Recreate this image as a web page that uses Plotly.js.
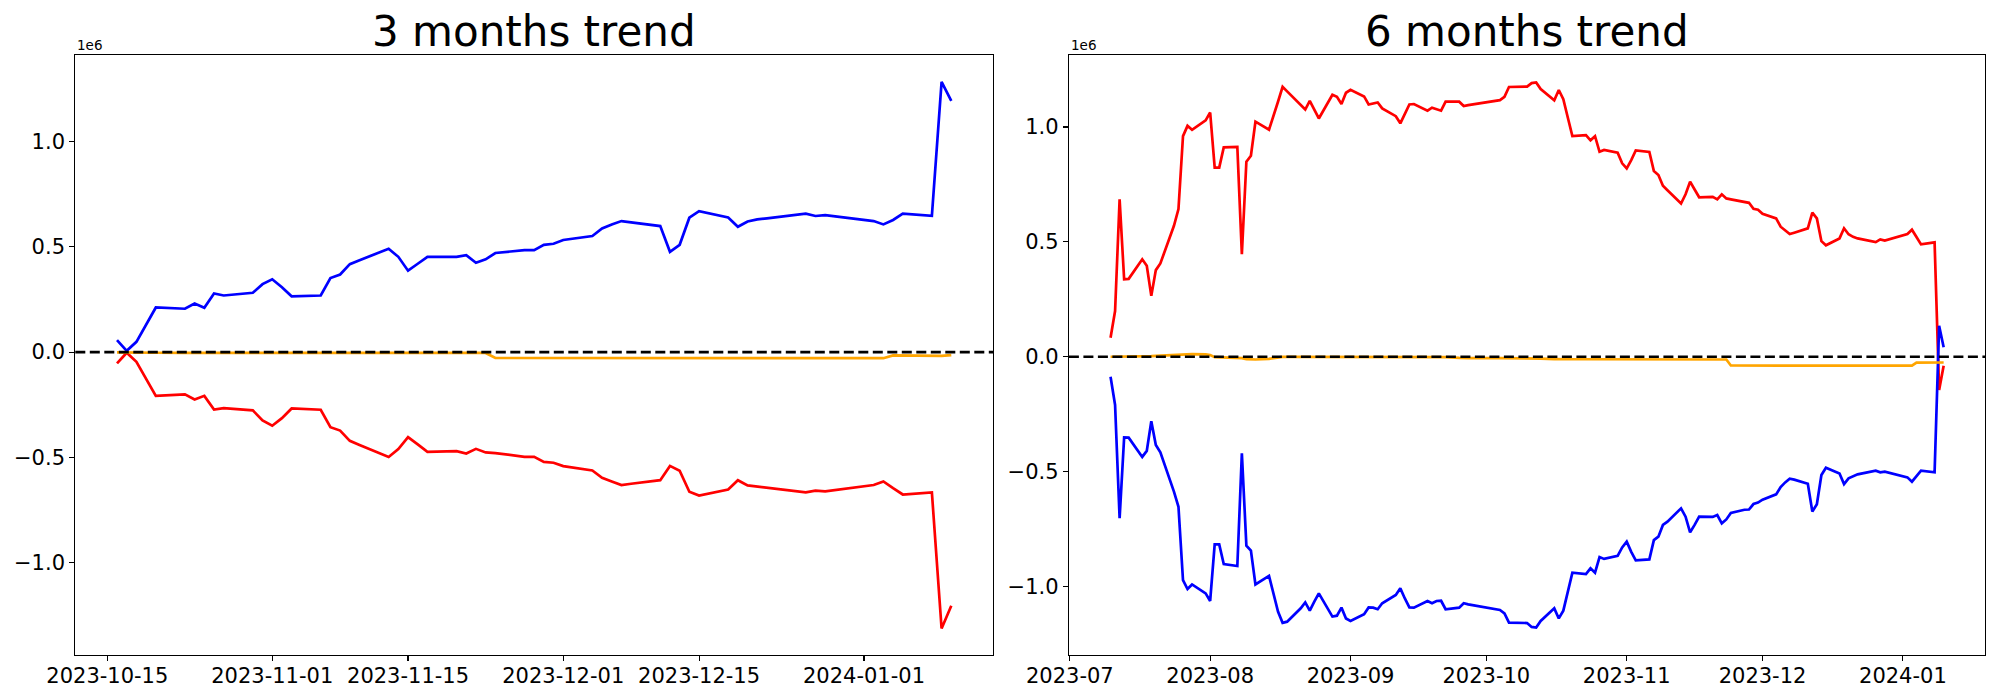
<!DOCTYPE html>
<html>
<head>
<meta charset="utf-8">
<script src="https://cdn.plot.ly/plotly-3.0.1.min.js"></script>
<style>html,body{margin:0;padding:0;background:#fff;}#chart{width:2000px;height:700px;}</style>
</head>
<body>
<div id="chart"></div>
<script>
// ---- 3 months (left) ----
const dates3m = [
"2023-10-16","2023-10-17","2023-10-18","2023-10-19","2023-10-20","2023-10-23","2023-10-24","2023-10-25","2023-10-26","2023-10-27","2023-10-30","2023-10-31",
"2023-11-01","2023-11-02","2023-11-03","2023-11-06","2023-11-07","2023-11-08","2023-11-09","2023-11-10","2023-11-13","2023-11-14","2023-11-15","2023-11-16","2023-11-17","2023-11-20","2023-11-21","2023-11-22","2023-11-23","2023-11-24","2023-11-27","2023-11-28","2023-11-29","2023-11-30",
"2023-12-01","2023-12-04","2023-12-05","2023-12-06","2023-12-07","2023-12-08","2023-12-11","2023-12-12","2023-12-13","2023-12-14","2023-12-15","2023-12-18","2023-12-19","2023-12-20","2023-12-21","2023-12-22","2023-12-26","2023-12-27","2023-12-28",
"2024-01-02","2024-01-03","2024-01-04","2024-01-05","2024-01-08","2024-01-09","2024-01-10"];
// values in units of 1e6
const blue3m = [0.057,0.006,0.049,0.133,0.212,0.206,0.231,0.211,0.279,0.269,0.282,0.323,
0.346,0.308,0.265,0.269,0.352,0.369,0.418,0.437,0.491,0.453,0.387,0.420,0.453,0.453,0.461,0.425,0.441,0.471,0.485,0.485,0.510,0.515,
0.533,0.552,0.588,0.607,0.623,0.617,0.599,0.477,0.510,0.639,0.670,0.640,0.596,0.621,0.631,0.636,0.658,0.647,0.651,
0.623,0.607,0.628,0.658,0.648,1.285,1.194];
const red3m = [-0.054,-0.003,-0.046,-0.130,-0.208,-0.201,-0.225,-0.208,-0.273,-0.266,-0.277,-0.325,
-0.350,-0.314,-0.268,-0.274,-0.357,-0.373,-0.422,-0.442,-0.499,-0.461,-0.404,-0.439,-0.474,-0.471,-0.482,-0.460,-0.477,-0.480,-0.498,-0.498,-0.522,-0.526,
-0.542,-0.563,-0.598,-0.615,-0.632,-0.626,-0.609,-0.541,-0.564,-0.664,-0.682,-0.653,-0.609,-0.634,-0.640,-0.645,-0.667,-0.659,-0.662,
-0.632,-0.615,-0.647,-0.677,-0.667,-1.314,-1.206];
const orange3m = [-0.001,-0.002,-0.003,-0.003,-0.003,-0.004,-0.004,-0.004,-0.004,-0.004,-0.004,-0.004,
-0.004,-0.004,-0.004,-0.004,-0.004,-0.004,-0.004,-0.004,-0.004,-0.004,-0.004,-0.004,-0.004,-0.004,-0.004,-0.004,-0.004,-0.028,-0.028,-0.028,-0.028,-0.028,
-0.028,-0.028,-0.028,-0.028,-0.028,-0.028,-0.028,-0.026,-0.029,-0.029,-0.029,-0.029,-0.029,-0.029,-0.029,-0.029,-0.029,-0.029,-0.029,
-0.029,-0.029,-0.016,-0.016,-0.016,-0.018,-0.014];
const ticks3m = ["2023-10-15","2023-11-01","2023-11-15","2023-12-01","2023-12-15","2024-01-01"];

// ---- 6 months (right) ----
const datesPre = [
"2023-07-10","2023-07-11","2023-07-12","2023-07-13","2023-07-14","2023-07-17","2023-07-18","2023-07-19","2023-07-20","2023-07-21","2023-07-24","2023-07-25","2023-07-26","2023-07-27","2023-07-28","2023-07-31",
"2023-08-01","2023-08-02","2023-08-03","2023-08-04","2023-08-07","2023-08-08","2023-08-09","2023-08-10","2023-08-11","2023-08-14","2023-08-16","2023-08-17","2023-08-18","2023-08-21","2023-08-22","2023-08-23","2023-08-24","2023-08-25","2023-08-28","2023-08-29","2023-08-30","2023-08-31",
"2023-09-01","2023-09-04","2023-09-05","2023-09-06","2023-09-07","2023-09-08","2023-09-11","2023-09-12","2023-09-13","2023-09-14","2023-09-15","2023-09-18","2023-09-19","2023-09-20","2023-09-21","2023-09-22","2023-09-25","2023-09-26","2023-09-27",
"2023-10-04","2023-10-05","2023-10-06","2023-10-10","2023-10-11","2023-10-12","2023-10-13"];
const dates6m = datesPre.concat(dates3m);
const red6m = [0.083,0.199,0.685,0.337,0.339,0.424,0.396,0.265,0.377,0.406,0.570,0.643,0.960,1.005,0.988,1.029,
1.063,0.823,0.823,0.911,0.913,0.446,0.849,0.875,1.023,0.988,1.111,1.175,1.155,1.095,1.076,1.114,1.076,1.037,1.140,1.131,1.100,1.149,
1.162,1.133,1.098,1.102,1.107,1.081,1.047,1.016,1.059,1.098,1.100,1.071,1.084,1.076,1.071,1.110,1.110,1.091,1.095,
1.117,1.131,1.174,1.176,1.191,1.194,1.165,
1.116,1.161,1.121,1.040,0.960,0.965,0.942,0.960,0.892,0.900,0.888,0.842,
0.820,0.856,0.898,0.891,0.808,0.791,0.744,0.725,0.667,0.707,0.762,0.728,0.694,0.696,0.685,0.707,0.689,0.685,0.673,0.670,0.644,0.640,
0.622,0.602,0.566,0.548,0.534,0.540,0.559,0.627,0.602,0.503,0.485,0.515,0.559,0.533,0.522,0.515,0.499,0.511,0.506,
0.534,0.553,0.521,0.489,0.498,-0.145,-0.039];
const blue6m = [-0.087,-0.210,-0.703,-0.351,-0.352,-0.436,-0.410,-0.281,-0.384,-0.416,-0.587,-0.653,-0.972,-1.011,-0.991,-1.030,
-1.063,-0.817,-0.817,-0.902,-0.911,-0.420,-0.822,-0.844,-0.991,-0.954,-1.110,-1.158,-1.153,-1.095,-1.069,-1.105,-1.066,-1.030,-1.131,-1.127,-1.092,-1.139,
-1.150,-1.121,-1.091,-1.092,-1.099,-1.073,-1.037,-1.008,-1.052,-1.091,-1.092,-1.063,-1.073,-1.063,-1.062,-1.099,-1.092,-1.073,-1.078,
-1.102,-1.117,-1.157,-1.159,-1.176,-1.179,-1.150,
-1.095,-1.139,-1.105,-1.023,-0.940,-0.946,-0.921,-0.940,-0.872,-0.880,-0.867,-0.830,
-0.805,-0.849,-0.886,-0.882,-0.798,-0.783,-0.732,-0.718,-0.660,-0.696,-0.764,-0.732,-0.696,-0.697,-0.689,-0.725,-0.708,-0.680,-0.666,-0.665,-0.641,-0.635,
-0.622,-0.599,-0.567,-0.547,-0.531,-0.535,-0.553,-0.674,-0.642,-0.515,-0.483,-0.508,-0.554,-0.529,-0.519,-0.512,-0.496,-0.503,-0.500,
-0.525,-0.544,-0.520,-0.496,-0.503,0.135,0.041];
const orange6m = [0.000,0.000,0.000,0.000,0.000,0.001,0.002,0.003,0.004,0.005,0.007,0.008,0.009,0.011,0.011,0.010,
0.007,-0.002,-0.003,-0.003,-0.004,-0.006,-0.010,-0.012,-0.012,-0.009,-0.002,-0.001,-0.001,-0.001,-0.001,-0.001,-0.001,-0.001,-0.001,-0.001,-0.001,-0.001,
-0.001,-0.001,-0.001,-0.001,-0.001,-0.001,-0.001,-0.001,-0.001,-0.001,-0.001,-0.001,-0.002,-0.002,-0.002,-0.002,-0.005,-0.006,-0.006,
-0.006,-0.006,-0.007,-0.007,-0.007,-0.008,-0.008,
-0.010,-0.011,-0.011,-0.011,-0.011,-0.011,-0.011,-0.011,-0.011,-0.011,-0.011,-0.011,
-0.011,-0.011,-0.011,-0.011,-0.011,-0.011,-0.011,-0.011,-0.011,-0.011,-0.011,-0.011,-0.011,-0.011,-0.011,-0.011,-0.012,-0.038,-0.038,-0.038,-0.038,-0.038,
-0.038,-0.038,-0.038,-0.038,-0.038,-0.038,-0.037,-0.036,-0.038,-0.039,-0.039,-0.039,-0.039,-0.039,-0.039,-0.039,-0.039,-0.039,-0.039,
-0.039,-0.039,-0.026,-0.026,-0.026,-0.027,-0.025];
const ticks6m = ["2023-07-01","2023-08-01","2023-09-01","2023-10-01","2023-11-01","2023-12-01","2024-01-01"];
const tickText6m = ["2023-07","2023-08","2023-09","2023-10","2023-11","2023-12","2024-01"];

const FONT = "DejaVu Sans";
const LW = 2.7;
function line(x, y, color, xa, ya) {
  return {x: x, y: y, type: "scatter", mode: "lines", line: {color: color, width: LW}, xaxis: xa, yaxis: ya, hoverinfo: "skip", showlegend: false};
}
const data = [
  line(dates3m, blue3m, "#0000ff", "x", "y"),
  line(dates3m, red3m, "#ff0000", "x", "y"),
  line(dates3m, orange3m, "#ffa500", "x", "y"),
  line(dates6m, red6m, "#ff0000", "x2", "y2"),
  line(dates6m, blue6m, "#0000ff", "x2", "y2"),
  line(dates6m, orange6m, "#ffa500", "x2", "y2")
];

const W = 2000, H = 700;
const axCommon = {
  showgrid: false, zeroline: false, showline: true, mirror: true, linecolor: "#000", linewidth: 1.1,
  ticks: "outside", ticklen: 5, tickwidth: 1.1, tickcolor: "#000", tickangle: 0,
  tickfont: {family: FONT, size: 21, color: "#000"}, ticklabelstandoff: 0
};
const xStandoff = {ticklabelstandoff: -4};
const yTop = 1 - 55.3 / H, yBot = 1 - 655.2 / H;
const layout = {
  width: W, height: H, margin: {l: 0, r: 0, t: 0, b: 0},
  paper_bgcolor: "#fff", plot_bgcolor: "#fff",
  font: {family: FONT, color: "#000"},
  xaxis: Object.assign({}, axCommon, xStandoff, {type: "date", domain: [75.3 / W, 993 / W], anchor: "y",
    range: ["2023-10-11 16:48", "2024-01-14 07:12"], tickvals: ticks3m, ticktext: ticks3m}),
  yaxis: Object.assign({}, axCommon, {domain: [yBot, yTop], anchor: "x", range: [-1.441, 1.411],
    tickvals: [-1, -0.5, 0, 0.5, 1], tickformat: ".1f"}),
  xaxis2: Object.assign({}, axCommon, xStandoff, {type: "date", domain: [1068.9 / W, 1985.3 / W], anchor: "y2",
    range: ["2023-06-30 19:12", "2024-01-19 04:48"], tickvals: ticks6m, ticktext: tickText6m}),
  yaxis2: Object.assign({}, axCommon, {domain: [yBot, yTop], anchor: "x2", range: [-1.299, 1.312],
    tickvals: [-1, -0.5, 0, 0.5, 1], tickformat: ".1f"}),
  shapes: [
    {type: "line", xref: "x domain", yref: "y", x0: 0, x1: 1, y0: 0, y1: 0, layer: "above",
     line: {color: "#000", width: 2.7, dash: "10px,4.5px"}},
    {type: "line", xref: "x2 domain", yref: "y2", x0: 0, x1: 1, y0: 0, y1: 0, layer: "above",
     line: {color: "#000", width: 2.7, dash: "10px,4.5px"}}
  ],
  annotations: [
    {text: "3 months trend", xref: "x domain", yref: "paper", x: 0.5, y: 1 - 58 / H, xanchor: "center", yanchor: "bottom",
     showarrow: false, font: {family: FONT, size: 42, color: "#000"}},
    {text: "6 months trend", xref: "x2 domain", yref: "paper", x: 0.5, y: 1 - 58 / H, xanchor: "center", yanchor: "bottom",
     showarrow: false, font: {family: FONT, size: 42, color: "#000"}},
    {text: "1e6", xref: "x domain", yref: "paper", x: 0, y: 1 - 55.3 / H, xanchor: "left", yanchor: "bottom",
     showarrow: false, font: {family: FONT, size: 13.5, color: "#000"}},
    {text: "1e6", xref: "x2 domain", yref: "paper", x: 0, y: 1 - 55.3 / H, xanchor: "left", yanchor: "bottom",
     showarrow: false, font: {family: FONT, size: 13.5, color: "#000"}}
  ]
};
Plotly.newPlot("chart", data, layout, {staticPlot: true, displayModeBar: false});
</script>
</body>
</html>
